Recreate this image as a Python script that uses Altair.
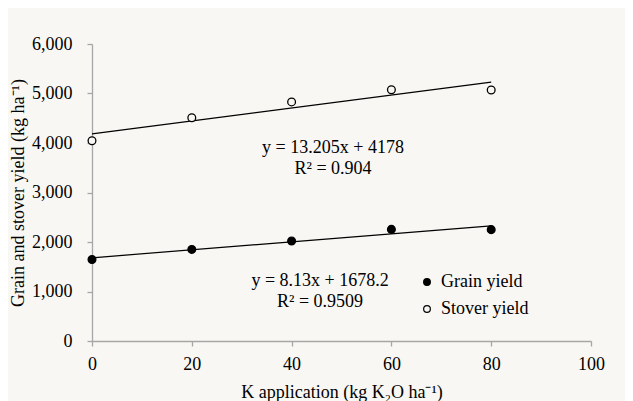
import altair as alt
import pandas as pd

# Data
k_rate = [0, 20, 40, 60, 80]
grain_yield = [1645, 1850, 2020, 2255, 2250]
stover_yield = [4045, 4510, 4830, 5075, 5070]
series_names = ["Grain yield", "Stover yield"]

eq_text = ["y = 13.205x + 4178", "R² = 0.904", "y = 8.13x + 1678.2", "R² = 0.9509"]
eq_x = [48.3, 48.3, 45.7, 45.7]
eq_y = [3899, 3475, 1212, 788]

BG = "#f9f7f3"
FONT = "Times New Roman, Liberation Serif, serif"
AXIS_GREY = "#a6a6a6"

df = pd.DataFrame({
    "k": k_rate * 2,
    "yield": grain_yield + stover_yield,
    "series": [series_names[0]] * len(k_rate) + [series_names[1]] * len(k_rate),
})
eq_df = pd.DataFrame({"text": eq_text, "x": eq_x, "y": eq_y})

x_enc = alt.X("k:Q", scale=alt.Scale(domain=[0, 100], nice=False),
              axis=alt.Axis(values=[0, 20, 40, 60, 80, 100], labelFlush=False,
                            title="K application (kg K₂O ha⁻¹)"))
y_enc = alt.Y("yield:Q", scale=alt.Scale(domain=[0, 6000], nice=False),
              axis=alt.Axis(values=[0, 1000, 2000, 3000, 4000, 5000, 6000], format=",d",
                            labelFlush=False,
                            title="Grain and stover yield (kg ha⁻¹)"))

base = alt.Chart(df)

trend = base.transform_regression(
    "k", "yield", groupby=["series"], extent=[0, 80]
).mark_line(color="black", strokeWidth=1.2).encode(
    x=x_enc, y=y_enc, detail="series:N"
)

points = base.mark_point(shape="circle", filled=True, size=60, stroke="black",
                         strokeWidth=1.3, opacity=1).encode(
    x=x_enc, y=y_enc,
    fill=alt.Fill("series:N",
                  scale=alt.Scale(domain=series_names, range=["black", BG]),
                  legend=alt.Legend(title=None, orient="none", legendX=326, legendY=229,
                                    symbolType="circle", symbolSize=45,
                                    symbolStrokeColor="black", symbolStrokeWidth=1.2,
                                    labelFont=FONT, labelFontSize=18, labelColor="black",
                                    labelOffset=5, rowPadding=9, padding=0)),
)

eqs = alt.Chart(eq_df).mark_text(font=FONT, fontSize=18, color="black",
                                 align="center", baseline="middle").encode(
    x=alt.X("x:Q"), y=alt.Y("y:Q"), text="text:N"
)

chart = alt.layer(trend, points, eqs).properties(
    width=499, height=297,
    background=BG,
    padding={"left": 84, "top": 36, "right": 34, "bottom": 64},
    autosize=alt.AutoSizeParams(type="none"),
).configure_view(stroke=None).configure_axis(
    grid=False,
    domainColor=AXIS_GREY, domainWidth=1.3,
    tickColor=AXIS_GREY, tickWidth=1.3, tickSize=5,
    labelFont=FONT, labelFontSize=18, labelColor="black",
    titleFont=FONT, titleFontSize=18, titleFontWeight="normal", titleColor="black",
).configure_axisY(
    labelPadding=15, titlePadding=4,
).configure_axisX(
    labelPadding=9, titlePadding=10,
)

chart.save("out.html", embed_options={"renderer": "svg", "actions": False})
